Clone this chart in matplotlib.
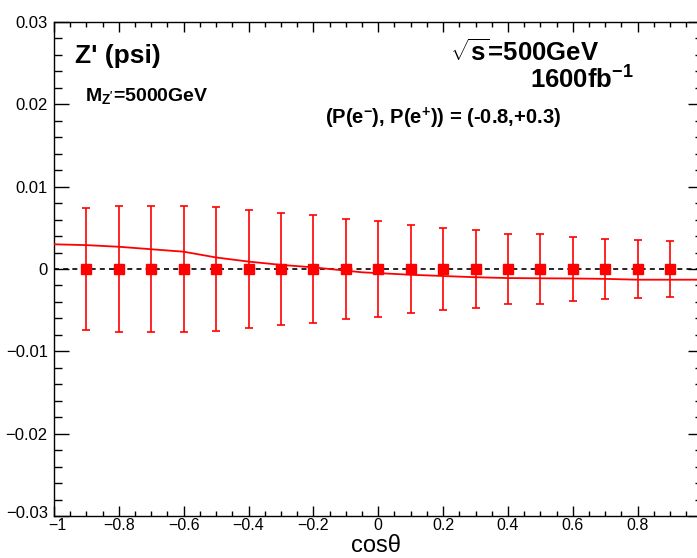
import matplotlib
matplotlib.use("Agg")
import matplotlib.pyplot as plt
from matplotlib.ticker import MultipleLocator, FixedLocator, FixedFormatter
from matplotlib.transforms import ScaledTranslation

plt.rcParams['font.family'] = ['Liberation Sans', 'DejaVu Sans']
plt.rcParams['mathtext.fontset'] = 'custom'
plt.rcParams['mathtext.rm'] = 'Liberation Sans'
plt.rcParams['mathtext.bf'] = 'Liberation Sans:bold'
plt.rcParams['mathtext.it'] = 'Liberation Sans:italic'

# data points (cos theta bins), all at zero with symmetric errors
cos_pts = [-0.9, -0.8, -0.7, -0.6, -0.5, -0.4, -0.3, -0.2, -0.1, 0.0,
           0.1, 0.2, 0.3, 0.4, 0.5, 0.6, 0.7, 0.8, 0.9]
val_pts = [0.0] * 19
err_pts = [0.0074, 0.0076, 0.0076, 0.0076, 0.0075, 0.0072, 0.0068, 0.0066, 0.0061, 0.0058,
           0.0053, 0.0050, 0.0047, 0.0043, 0.0042, 0.0039, 0.0037, 0.0035, 0.0034]

# red theory curve
curve_x = [-1.0, -0.9, -0.8, -0.7, -0.6, -0.5, -0.4, -0.3, -0.2, -0.1, -0.05, 0.0,
           0.1, 0.2, 0.3, 0.4, 0.5, 0.6, 0.7, 0.8, 0.9, 1.0]
curve_y = [0.0030, 0.0029, 0.0027, 0.0024, 0.0021, 0.0014, 0.0009, 0.0005, 0.0002, -0.0002, -0.0004, -0.0005,
           -0.0007, -0.00085, -0.0010, -0.0011, -0.00113, -0.00115, -0.0012, -0.0013, -0.0013, -0.0013]

xticks = [-1.0, -0.8, -0.6, -0.4, -0.2, 0.0, 0.2, 0.4, 0.6, 0.8, 1.0]
xticklabels = ['\u22121', '\u22120.8', '\u22120.6', '\u22120.4', '\u22120.2', '0', '0.2', '0.4', '0.6', '0.8', '']
yticks = [-0.03, -0.02, -0.01, 0.0, 0.01, 0.02, 0.03]
yticklabels = ['\u22120.03', '\u22120.02', '\u22120.01', '0', '0.01', '0.02', '0.03']

W, H = 697, 558
fig = plt.figure(figsize=(W / 100, H / 100), dpi=100)
ax = fig.add_axes([54 / W, 1 - 516 / H, (702.5 - 54) / W, 494 / H])

ax.set_xlim(-1, 1)
ax.set_ylim(-0.03, 0.03)

ax.plot([-1, 1], [0, 0], color='black', lw=1.2, ls=(0, (3, 2.5)), zorder=2)
ax.plot(curve_x, curve_y, color='red', lw=1.3, zorder=3)
ax.errorbar(cos_pts, val_pts, yerr=err_pts, fmt='s', color='red', ms=7.5,
            elinewidth=1.2, capsize=3, capthick=1.2, zorder=4)

ax.xaxis.set_major_locator(FixedLocator(xticks))
ax.xaxis.set_major_formatter(FixedFormatter(xticklabels))
ax.xaxis.set_minor_locator(MultipleLocator(0.05))
ax.yaxis.set_major_locator(FixedLocator(yticks))
ax.yaxis.set_major_formatter(FixedFormatter(yticklabels))
ax.yaxis.set_minor_locator(MultipleLocator(0.002))

ax.tick_params(axis='both', which='both', direction='in', top=True, right=True, labelsize=12, width=1)
ax.tick_params(axis='x', which='major', length=7, pad=1.5, labelsize=11.5)
ax.tick_params(axis='x', which='minor', length=3.5)
ax.tick_params(axis='y', which='major', length=11, pad=4.5)
ax.tick_params(axis='y', which='minor', length=6)
for s in ax.spines.values():
    s.set_linewidth(1)

# nudge the two corner labels apart slightly
ytick0 = ax.yaxis.get_major_ticks()[0]
ytick0.label1.set_transform(ytick0.label1.get_transform() + ScaledTranslation(0, 4 / 100, fig.dpi_scale_trans))
xtick0 = ax.xaxis.get_major_ticks()[0]
xtick0.label1.set_transform(xtick0.label1.get_transform() + ScaledTranslation(3 / 100, 0, fig.dpi_scale_trans))

fig.text(376 / W, 0.5 / H, 'cos\u03b8', ha='center', va='bottom', fontsize=17)

fig.text(75 / W, 1 - 63 / H, "Z' (psi)", ha='left', va='baseline', fontsize=19, fontweight='bold')
fig.text(85 / W, 1 - 101 / H, r"M$_{\mathbf{Z'}}$=5000GeV", ha='left', va='baseline', fontsize=14, fontweight='bold')
fig.text(450 / W, 1 - 61 / H, r"$\sqrt{\mathbf{s}}$=500GeV", ha='left', va='baseline', fontsize=18.5, fontweight='bold')
fig.text(530 / W, 1 - 89 / H, r"1600fb$^{\mathbf{-1}}$", ha='left', va='baseline', fontsize=18.5, fontweight='bold')
fig.text(325 / W, 1 - 124 / H, r"(P(e$^{\mathbf{-}}$), P(e$^{\mathbf{+}}$)) = (-0.8,+0.3)", ha='left', va='baseline',
         fontsize=14.5, fontweight='bold')

fig.savefig('out.png', dpi=100)
